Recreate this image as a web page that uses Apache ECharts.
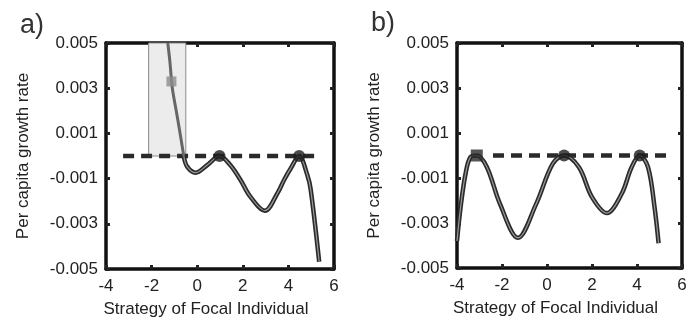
<!DOCTYPE html>
<html>
<head>
<meta charset="utf-8">
<script src="https://cdn.jsdelivr.net/npm/echarts@6/dist/echarts.min.js"></script>
<style>
  html, body { margin: 0; padding: 0; background: #fff; }
  #chart { width: 699px; height: 327px; }
</style>
</head>
<body>
<div id="chart"></div>
<script>
// axis settings
const xTicks = { min: -4, max: 6, interval: 2 };
const yTicks = { min: -0.005, max: 0.005, interval: 0.002 };

// panel a: invasion part (inside the shaded box) and the rest
const curveA1 = [[-1.29, 0.005], [-1.2, 0.0042], [-1.09, 0.003], [-0.92, 0.002], [-0.75, 0.001], [-0.59, 0]];
const curveA2 = [[-0.59, 0], [-0.44, -0.00047], [-0.07, -0.00074], [0.44, -0.0004], [0.98, 0], [1.45, -0.0004],
  [1.9, -0.00106], [2.33, -0.0018], [2.97, -0.00242], [3.52, -0.00165], [3.81, -0.00106], [4.1, -0.00055],
  [4.47, 0], [4.83, -0.00084], [4.98, -0.0015], [5.35, -0.00468]];
const peaksA = [[0.98, 0], [4.47, 0]];
const squareA = [[-1.13, 0.0033]];
const boxA = [[-2.13, 0], [-0.5, 0.005]];
const zeroA = [[-3.25, 0], [5.3, 0]];

// panel b
const curveB = [[-4, -0.0038], [-3.84, -0.0023], [-3.62, -0.00081], [-3.4, -0.00007], [-3.12, 0], [-2.67, -0.00052],
  [-2.09, -0.00215], [-1.29, -0.00366], [-0.48, -0.00215], [0.25, -0.00037], [0.76, 0], [1.42, -0.00052],
  [2.0, -0.00185], [2.66, -0.00256], [3.32, -0.0017], [3.76, -0.00052], [4.12, 0], [4.49, -0.00052],
  [4.78, -0.0023], [4.96, -0.0039]];
const peaksB = [[0.76, 0], [4.12, 0]];
const squareB = [[-3.12, 0]];
const zeroB = [[-2.4, 0], [5.5, 0]];

const xName = 'Strategy of Focal Individual';
const yName = 'Per capita growth rate';

const font = 'Liberation Sans, Arial, sans-serif';
const ink = '#222';

function xAxisFor(grid, pos) {
  const main = pos === 'bottom';
  return {
    type: 'value', gridIndex: grid, position: pos, ...xTicks,
    name: main ? xName : '', nameLocation: 'middle', nameGap: 32,
    nameTextStyle: { fontFamily: font, fontSize: 17, color: ink, padding: [0, 28, 0, 0] },
    axisLine: { show: true, onZero: false, lineStyle: { color: '#111', width: 3.5 } },
    axisTick: { show: true, inside: true, length: 4, lineStyle: { color: ink, width: 3 } },
    axisLabel: { show: main, fontFamily: font, fontSize: 17, color: ink, margin: 9 },
    splitLine: { show: false }
  };
}

function yAxisFor(grid, pos) {
  const main = pos === 'left';
  return {
    type: 'value', gridIndex: grid, position: pos, ...yTicks,
    name: main ? yName : '', nameLocation: 'middle', nameGap: 74,
    nameTextStyle: { fontFamily: font, fontSize: 17, color: ink },
    axisLine: { show: true, onZero: false, lineStyle: { color: '#111', width: 3.5 } },
    axisTick: { show: true, inside: true, length: 4, lineStyle: { color: ink, width: 3 } },
    axisLabel: {
      show: main, fontFamily: font, fontSize: 17, color: ink, margin: 8,
      formatter: v => v.toFixed(3)
    },
    splitLine: { show: false }
  };
}

function zeroLine(data, xi) {
  return {
    type: 'line', xAxisIndex: xi, yAxisIndex: xi, data: data, symbol: 'none', z: 3,
    lineStyle: { color: '#2a2a2a', width: 4.5, type: [11, 7] }
  };
}

function doubleLine(data, xi) {
  return [
    { type: 'line', xAxisIndex: xi, yAxisIndex: xi, data: data, symbol: 'none', smooth: 0.35, z: 4,
      lineStyle: { color: '#2b2b2b', width: 4.5 } },
    { type: 'line', xAxisIndex: xi, yAxisIndex: xi, data: data, symbol: 'none', smooth: 0.35, z: 5,
      lineStyle: { color: '#9a9a9a', width: 1.2 } }
  ];
}

function markers(data, xi, symbol, size, color) {
  return {
    type: 'scatter', xAxisIndex: xi, yAxisIndex: xi, data: data, symbol: symbol,
    symbolSize: size, itemStyle: { color: color }, z: 6
  };
}

const chart = echarts.init(document.getElementById('chart'));
chart.setOption({
  animation: false,
  backgroundColor: '#fff',
  title: [
    { text: 'a)', left: 15, top: 7, textStyle: { fontFamily: font, fontSize: 27, fontWeight: 'normal', color: '#333' } },
    { text: 'b)', left: 366, top: 5, textStyle: { fontFamily: font, fontSize: 27, fontWeight: 'normal', color: '#333' } }
  ],
  grid: [
    { left: 106, right: 365, top: 43, bottom: 58 },
    { left: 457, right: 17, top: 43, bottom: 59 }
  ],
  xAxis: [xAxisFor(0, 'bottom'), xAxisFor(0, 'top'), xAxisFor(1, 'bottom'), xAxisFor(1, 'top')],
  yAxis: [yAxisFor(0, 'left'), yAxisFor(0, 'right'), yAxisFor(1, 'left'), yAxisFor(1, 'right')],
  series: [
    {
      type: 'line', xAxisIndex: 0, yAxisIndex: 0, data: [], z: 1,
      markArea: {
        silent: true,
        itemStyle: { color: '#ececec', borderColor: '#8a8a8a', borderWidth: 1 },
        data: [[{ coord: boxA[0] }, { coord: boxA[1] }]]
      }
    },
    zeroLine(zeroA, 0),
    { type: 'line', xAxisIndex: 0, yAxisIndex: 0, data: curveA1, symbol: 'none', smooth: 0.3, z: 4,
      lineStyle: { color: '#666', width: 3 } },
    ...doubleLine(curveA2, 0),
    markers(peaksA, 0, 'circle', 12, '#1e1e1e'),
    markers(squareA, 0, 'rect', 10, '#8c8c8c'),
    zeroLine(zeroB, 2),
    ...doubleLine(curveB, 2),
    markers(peaksB, 2, 'circle', 12, '#1e1e1e'),
    markers(squareB, 2, 'rect', 12, '#2a2a2a')
  ]
});
</script>
</body>
</html>
